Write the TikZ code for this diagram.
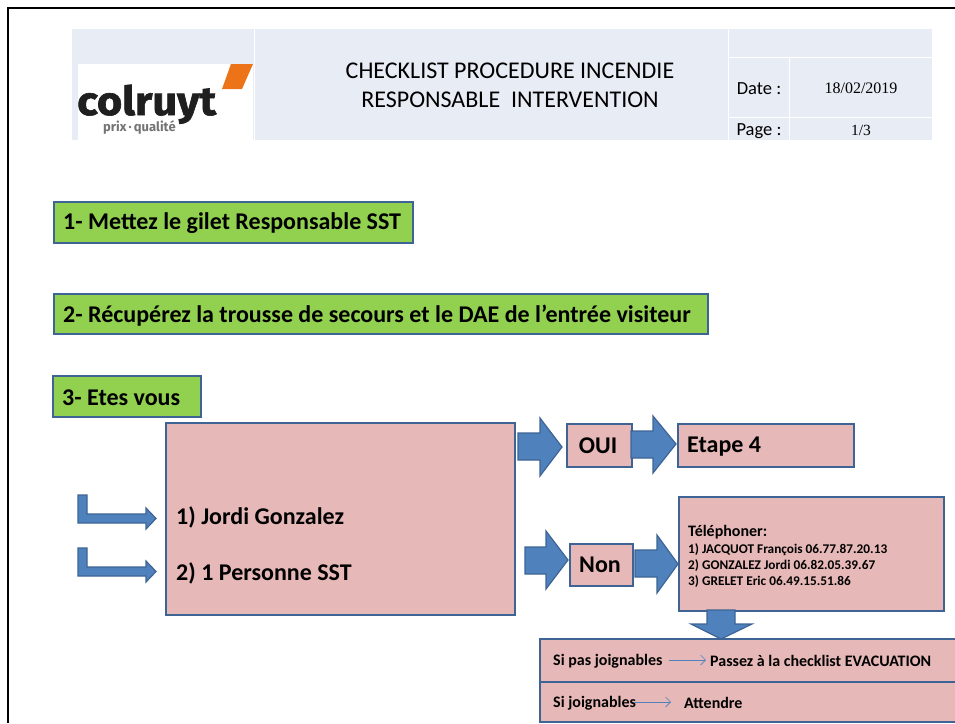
\documentclass[tikz,border=0pt]{standalone}
\usepackage{fontspec}
\setmainfont{Carlito}
\newfontfamily\serifdate{Liberation Serif}
\newfontfamily\logofont[FakeStretch=1.08,BoldFeatures={FakeBold=1.6}]{Fira Sans}
\newfontfamily\logosubfont{Fira Sans}
\definecolor{hdr}{HTML}{E8ECF4}
\definecolor{pinkbox}{HTML}{E6B8B7}
\definecolor{greenbox}{HTML}{92D050}
\definecolor{edgeblue}{HTML}{3E6495}
\definecolor{arrowblue}{HTML}{4F81BD}
\definecolor{logoorange}{HTML}{EC7318}
\usetikzlibrary{arrows.meta}
\tikzset{
  hdrcell/.style={fill=hdr,draw=none},
  greenstep/.style={rectangle,draw=edgeblue,line width=2.2pt,fill=greenbox,anchor=north west,inner sep=0pt},
  pinkstep/.style={rectangle,draw=edgeblue,line width=2.2pt,fill=pinkbox,anchor=north west,inner sep=0pt},
  blockarrow/.style={fill=arrowblue,draw=edgeblue,line width=1.2pt,line join=miter},
  thinarrow/.style={draw=arrowblue,line width=.6pt,-{Straight Barb[length=5pt,width=10pt]}},
  steptext/.style={font=\bfseries\fontsize{24}{28}\selectfont,anchor=west,inner sep=0pt},
  bigtext/.style={font=\bfseries\fontsize{24}{28}\selectfont,inner sep=0pt},
  smalltext/.style={font=\bfseries\fontsize{13.3}{16}\selectfont,anchor=west,inner sep=0pt},
  midtext/.style={font=\bfseries\fontsize{16}{19}\selectfont,anchor=west,inner sep=0pt},
}
\begin{document}
\begin{tikzpicture}[x=1pt,y=-1pt]
\useasboundingbox (0,0) rectangle (955,723);
% page frame
\draw[black,line width=2.4pt] (8,723) -- (8,8) -- (955,8);
% header
\fill[hdrcell] (72,29) rectangle (253.5,140);
\fill[hdrcell] (254.5,29) rectangle (728,140);
\fill[hdrcell] (729,29) rectangle (932,56.5);
\fill[hdrcell] (729,57.5) rectangle (789,117);
\fill[hdrcell] (790,57.5) rectangle (932,117);
\fill[hdrcell] (729,118) rectangle (789,140);
\fill[hdrcell] (790,118) rectangle (932,140);
% logo
\fill[white] (78,64) rectangle (253,140);
\fill[logoorange] (231,64) -- (253,64) -- (242,89) -- (222,89) -- cycle;
\node[anchor=base west,inner sep=0pt,text=black!88] (logoword) at (77,115)
  {\logofont\bfseries\fontsize{40}{40}\selectfont colruyt};
\node[anchor=base west,inner sep=0pt,text=black!55] (logosub) at (103,131)
  {\logosubfont\bfseries\fontsize{13}{13}\selectfont prix\,·\,qualité};
% header texts
\node[align=center,inner sep=0pt,font=\fontsize{24}{29}\selectfont] (title) at (510,85)
  {CHECKLIST PROCEDURE INCENDIE\\RESPONSABLE\ \ INTERVENTION};
\node[inner sep=0pt,font=\fontsize{18.5}{20}\selectfont] (datelbl) at (759,89) {Date :};
\node[inner sep=0pt,font=\serifdate\fontsize{16}{18}\selectfont] (dateval) at (861,88) {18/02/2019};
\node[inner sep=0pt,font=\fontsize{18.5}{20}\selectfont] (pagelbl) at (759,131.5) {Page :};
\node[inner sep=0pt,font=\serifdate\fontsize{15.5}{15}\selectfont] (pageval) at (861,130) {1/3};
% green steps
\node[greenstep,minimum width=359pt,minimum height=41pt] (s1) at (52.5,200.5) {};
\node[steptext] (s1t) at (63,223.5) {1- Mettez le gilet Responsable SST};
\node[greenstep,minimum width=654pt,minimum height=40pt] (s2) at (52.5,292.5) {};
\node[steptext] (s2t) at (63,316) {2- Récupérez la trousse de secours et le DAE de l’entrée visiteur};
\node[greenstep,minimum width=148pt,minimum height=41pt] (s3) at (51.5,374.5) {};
\node[steptext] (s3t) at (62,397.5) {3- Etes vous};
% pink boxes
\node[pinkstep,minimum width=349pt,minimum height=192pt] (who) at (164.5,421.5) {};
\node[steptext] (jordi) at (176,517) {1) Jordi Gonzalez};
\node[steptext] (sst) at (176,573) {2) 1 Personne SST};
\node[pinkstep,minimum width=65pt,minimum height=43pt] (oui) at (565.5,422.5) {};
\node[bigtext] (ouit) at (598,446) {OUI};
\node[pinkstep,minimum width=176pt,minimum height=43pt] (etape) at (676.5,422.5) {};
\node[bigtext,anchor=west] (etapet) at (687,447) {Etape 4};
\node[pinkstep,minimum width=63pt,minimum height=42pt] (non) at (568.5,542.5) {};
\node[bigtext] (nont) at (600,565) {Non};
\node[pinkstep,minimum width=265pt,minimum height=114pt] (tel) at (677.5,495.5) {};
\node[midtext] (telt) at (688,532) {Téléphoner:};
\node[smalltext] (tel1) at (688,550) {1) JACQUOT François 06.77.87.20.13};
\node[smalltext] (tel2) at (688,566) {2) GONZALEZ Jordi 06.82.05.39.67};
\node[smalltext] (tel3) at (688,582) {3) GRELET Eric 06.49.15.51.86};
% bottom table
\fill[pinkbox] (540,639) rectangle (960,722);
\draw[edgeblue,line width=2.2pt] (960,639) -- (540,639) -- (540,722) -- (960,722) (540,682) -- (960,682);
\node[midtext] (sipas) at (553,661) {Si pas joignables};
\node[midtext] (passez) at (710,661) {Passez à la checklist EVACUATION};
\node[midtext] (sijoin) at (553,703) {Si joignables};
\node[midtext] (attendre) at (684,703) {Attendre};
\coordinate (t1a) at (669,660); \coordinate (t1b) at (706,660);
\coordinate (t2a) at (634,702); \coordinate (t2b) at (671,702);
\draw[thinarrow] (t1a) -- (t1b);
\draw[thinarrow] (t2a) -- (t2b);
% block arrows
\draw[blockarrow] (518,433) -- (540,433) -- (540,418) -- (562,447) -- (540,476) -- (540,460) -- (518,460) -- cycle;
\draw[blockarrow] (631,431) -- (653,431) -- (653,416) -- (676,444) -- (653,473) -- (653,458) -- (631,458) -- cycle;
\draw[blockarrow] (525,547) -- (546,547) -- (546,531) -- (568,560) -- (546,589) -- (546,574) -- (525,574) -- cycle;
\draw[blockarrow] (635,550) -- (657,550) -- (657,535) -- (678,564) -- (657,593) -- (657,577) -- (635,577) -- cycle;
\draw[blockarrow] (707,610) -- (735,610) -- (735,624) -- (752,624) -- (721,639) -- (691,624) -- (707,624) -- cycle;
% bent arrows
\draw[blockarrow] (78,495) -- (87,495) -- (87,514) -- (146,514) -- (146,508) -- (156,518.5) -- (146,529) -- (146,523) -- (78,523) -- cycle;
\draw[blockarrow] (78,548) -- (87,548) -- (87,567) -- (146,567) -- (146,561) -- (156,571.5) -- (146,582) -- (146,576) -- (78,576) -- cycle;
\end{tikzpicture}
\end{document}
